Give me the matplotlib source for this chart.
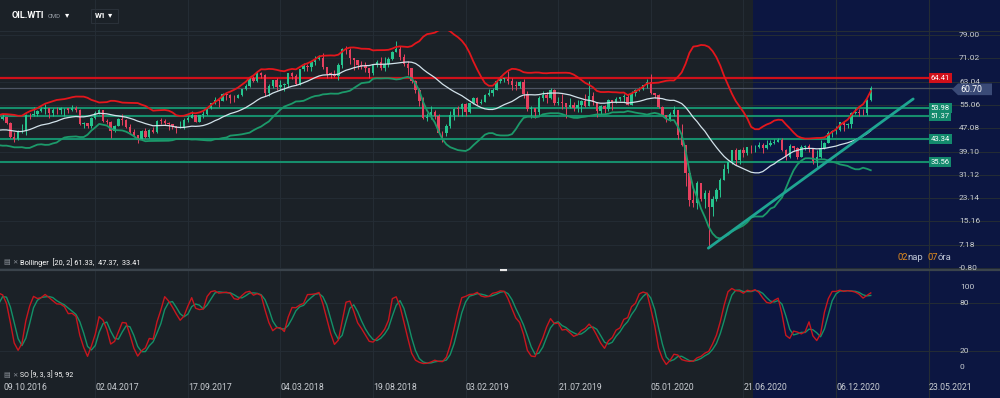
import numpy as np
import pandas as pd
import matplotlib
matplotlib.use("Agg")
import matplotlib.pyplot as plt
from matplotlib.patches import Rectangle, Polygon
import matplotlib.transforms as mtransforms

# ---------------- DATA (weekly candles, week index 0 = 09.10.2016) ----------------
first_week = -20
close_2016 = [49.33, 48.62, 49.07, 47.98, 47.64, 48.99, 45.41, 45.95, 44.19, 41.60, 41.80, 44.49, 48.52, 47.64, 44.44, 45.88, 43.03, 44.48, 48.24, 49.81,
              50.35, 50.85, 48.70, 44.07, 43.41, 45.69, 46.06, 51.68, 51.50, 51.90, 53.02, 53.72]
high_2016 = [50.21, 50.07, 51.67, 49.68, 50.70, 49.99, 49.44, 46.81, 46.06, 44.30, 42.52, 44.72, 48.75, 48.72, 47.90, 46.55, 46.80, 46.55, 48.30, 50.14,
             51.60, 51.93, 50.99, 49.20, 45.95, 46.45, 48.35, 51.84, 52.42, 54.51, 53.29, 54.37]
low_2016 = [47.75, 47.93, 48.34, 45.83, 46.62, 45.83, 44.77, 44.28, 43.75, 40.57, 39.19, 41.27, 44.05, 46.17, 43.09, 43.65, 42.80, 43.25, 43.76, 47.69,
            49.55, 49.75, 48.43, 43.57, 42.20, 42.95, 45.29, 44.82, 50.39, 51.21, 51.43, 52.60]

close_2017 = [53.99, 52.37, 53.22, 53.17, 53.83, 53.86, 53.40, 53.99, 53.33, 48.49, 48.78, 47.97, 50.60, 52.24, 53.18, 49.62, 49.33, 46.22, 47.84, 50.33,
              49.80, 47.66, 45.83, 44.74, 43.01, 46.04, 44.23, 46.54, 45.77, 49.71, 49.58, 48.82, 48.51, 47.87, 47.29, 47.48, 49.89, 50.66, 51.67, 49.29,
              51.45, 51.84, 53.90, 55.64, 56.74, 56.55, 58.95, 58.36, 57.36, 57.30, 58.47, 60.42]
high_2017 = [55.24, 53.99, 53.85, 54.18, 54.49, 54.09, 54.00, 54.94, 54.66, 53.55, 49.19, 48.76, 50.85, 52.94, 53.76, 53.19, 50.11, 49.46, 48.05, 50.66,
             52.00, 50.27, 48.37, 46.87, 44.75, 46.53, 47.32, 46.97, 47.35, 49.81, 50.43, 50.22, 49.29, 48.44, 48.00, 49.42, 50.50, 51.28, 52.86, 51.70,
             51.60, 52.86, 54.20, 55.76, 57.69, 57.06, 58.98, 59.05, 58.72, 58.40, 58.66, 60.51]
low_2017 = [52.11, 50.71, 51.43, 52.06, 52.08, 51.22, 52.45, 53.04, 52.80, 48.10, 47.09, 47.04, 47.20, 50.15, 52.06, 49.31, 48.61, 43.76, 45.91, 47.76,
            48.18, 47.28, 45.20, 44.27, 42.05, 42.91, 43.76, 43.80, 45.40, 45.52, 48.36, 48.27, 46.46, 46.85, 45.58, 46.99, 46.65, 49.19, 51.04, 49.10,
            49.09, 50.71, 51.53, 53.82, 55.39, 54.48, 56.24, 56.75, 55.82, 56.14, 57.32, 58.10]

close_2018 = [61.44, 64.30, 63.37, 66.14, 65.45, 59.20, 61.68, 63.55, 61.25, 62.04, 62.34, 65.88, 64.94, 62.06, 67.39, 68.38, 68.10, 69.72, 70.70, 71.28,
              67.88, 65.81, 65.74, 65.06, 68.58, 74.15, 73.80, 71.01, 70.46, 68.69, 68.49, 67.63, 65.91, 68.72, 69.80, 67.75, 68.99, 70.78, 73.25, 74.34,
              71.34, 69.12, 67.59, 63.14, 60.19, 56.46, 50.42, 50.93, 52.61, 51.20, 45.59, 45.33]
high_2018 = [62.21, 64.77, 64.89, 66.66, 66.30, 65.53, 62.09, 63.73, 64.24, 63.69, 62.59, 65.94, 66.37, 65.57, 67.45, 69.56, 69.20, 69.76, 71.89, 72.30,
             72.83, 68.10, 66.36, 67.04, 69.25, 74.46, 75.27, 74.70, 71.06, 70.36, 70.06, 69.92, 67.65, 68.92, 70.50, 71.40, 71.31, 71.60, 73.37, 76.90,
             75.31, 72.65, 70.03, 67.63, 63.68, 60.89, 57.79, 52.43, 54.55, 53.28, 51.93, 46.24]
low_2018 = [60.10, 61.21, 62.85, 62.91, 64.24, 58.07, 58.26, 60.69, 60.16, 60.21, 59.95, 61.28, 63.89, 61.81, 61.95, 66.62, 66.52, 66.74, 68.88, 70.31,
            67.46, 64.22, 64.26, 64.78, 63.59, 67.54, 72.34, 69.00, 67.03, 67.42, 67.25, 66.19, 64.43, 65.47, 68.16, 66.86, 66.66, 68.10, 70.48, 73.08,
            70.41, 68.48, 65.33, 62.63, 59.26, 54.75, 50.15, 49.41, 50.08, 50.34, 45.42, 42.36]

close_2019 = [47.96, 51.59, 53.80, 53.69, 55.26, 52.72, 55.59, 57.26, 55.80, 56.07, 58.52, 59.04, 60.14, 63.08, 63.89, 64.00, 63.30, 61.94, 61.66, 62.76,
              58.63, 53.50, 53.99, 52.51, 57.43, 58.47, 57.51, 60.21, 55.63, 56.20, 55.66, 54.50, 54.87, 54.17, 55.10, 56.52, 54.85, 58.09, 55.91, 52.81,
              54.70, 53.78, 56.66, 56.20, 57.24, 57.72, 57.77, 55.17, 59.20, 60.07, 60.44, 61.72]
high_2019 = [48.64, 52.82, 54.06, 54.71, 55.75, 55.79, 55.75, 57.81, 57.88, 57.25, 58.74, 60.39, 60.73, 63.23, 64.79, 64.37, 66.60, 64.37, 63.34, 63.38,
             63.87, 59.76, 54.84, 54.14, 58.09, 59.93, 59.48, 60.94, 60.61, 57.84, 58.82, 55.33, 57.47, 56.20, 56.79, 56.84, 58.76, 63.38, 59.40, 56.00,
             54.88, 54.96, 56.92, 56.89, 57.79, 57.92, 58.84, 58.76, 59.85, 60.64, 61.32, 61.87]
low_2019 = [44.35, 47.10, 50.03, 51.34, 51.33, 51.23, 52.28, 55.29, 55.11, 55.40, 55.90, 58.20, 58.17, 60.04, 62.65, 62.96, 62.33, 60.30, 60.03, 60.87,
            57.33, 52.86, 50.60, 50.72, 51.27, 56.30, 55.74, 57.25, 54.87, 55.07, 53.59, 50.52, 54.08, 52.92, 52.51, 52.78, 54.50, 57.40, 55.18, 50.99,
            51.97, 52.36, 52.91, 53.21, 55.81, 56.26, 55.93, 54.97, 55.18, 58.17, 59.79, 60.26]

close_2020 = [63.05, 59.04, 58.54, 54.19, 51.56, 50.32, 52.05, 53.38, 44.76, 41.28, 31.73, 22.43, 21.51, 28.34, 22.76, 25.03, 20.20, 22.80, 25.80, 29.43,
              33.25, 35.49, 39.55, 36.26, 39.75, 38.49, 40.65, 40.55, 40.59, 41.29, 40.27, 41.22, 42.01, 42.34, 42.97, 39.77, 37.33, 41.11, 40.25, 37.05,
              40.60, 40.88, 39.85, 35.79, 37.14, 40.13, 42.15, 45.53, 46.26, 46.57, 49.10, 48.23]
high_2020 = [64.09, 65.65, 59.30, 58.68, 54.78, 51.65, 52.75, 54.54, 53.33, 48.66, 33.22, 32.88, 26.50, 29.13, 28.36, 25.80, 25.90, 23.90, 26.70, 29.95,
             34.66, 35.53, 39.76, 40.44, 40.00, 40.74, 40.80, 41.31, 41.17, 42.51, 42.01, 42.97, 43.00, 43.41, 43.78, 43.59, 39.95, 41.55, 41.13, 40.55,
             41.21, 41.45, 41.78, 40.44, 39.47, 43.07, 42.41, 46.26, 46.56, 47.74, 49.32, 49.34]
low_2020 = [60.82, 58.67, 57.36, 54.06, 51.36, 49.31, 49.54, 51.13, 43.32, 40.94, 27.34, 20.52, 20.08, 19.27, 21.98, 19.90, 6.50, 17.00, 22.20, 23.67,
            29.47, 31.62, 34.73, 34.63, 34.66, 37.08, 37.94, 38.63, 39.00, 40.14, 38.72, 40.04, 41.03, 41.52, 42.56, 39.29, 36.13, 36.82, 39.21, 36.63,
            37.37, 39.46, 38.95, 34.92, 33.64, 36.94, 39.93, 42.18, 43.92, 45.08, 45.97, 46.16]

close_2021 = [48.52, 52.24, 52.36, 52.27, 52.20, 56.85, 60.70]
high_2021 = [48.96, 52.75, 53.93, 53.55, 53.68, 57.00, 61.60]
low_2021 = [47.18, 47.26, 51.86, 51.42, 51.75, 51.60, 56.35]

date_tick_weeks = [0, 25, 49, 73, 97, 121, 145, 169, 193, 217, 241]
date_labels = ["09.10.2016", "02.04.2017", "17.09.2017", "04.03.2018", "19.08.2018", "03.02.2019",
               "21.07.2019", "05.01.2020", "21.06.2020", "06.12.2020", "23.05.2021"]
price_ticks = [79.00, 71.02, 63.04, 55.06, 47.08, 39.10, 31.12, 23.14, 15.16, 7.18, -0.80]
osc_ticks = [100, 80, 20, 0]
red_level = 64.41
green_levels = [53.98, 51.37, 43.34, 35.56]
last_price = 60.70
trend_weeks = [183.9, 237.0]
trend_prices = [6.0, 57.1]
shade_start_week = 195.5
bb_label = "Bollinger  [20, 2] 61.33,  47.37,  33.41"
so_label = "SO [9, 3, 3] 95, 92"

# ---------------- PREP ----------------
close = np.array(close_2016 + close_2017 + close_2018 + close_2019 + close_2020 + close_2021)
high = np.array(high_2016 + high_2017 + high_2018 + high_2019 + high_2020 + high_2021)
low = np.array(low_2016 + low_2017 + low_2018 + low_2019 + low_2020 + low_2021)
assert len(close) == len(high) == len(low)
weeks = np.arange(first_week, first_week + len(close))
opn = np.concatenate([[close[0]], close[:-1]])
high = np.maximum(high, np.maximum(opn, close))
low = np.minimum(low, np.minimum(opn, close))

s = pd.Series(close)
bb_mid = s.rolling(20).mean()
bb_sd = s.rolling(20).std(ddof=0)
bb_up = bb_mid + 2 * bb_sd
bb_lo = bb_mid - 2 * bb_sd

hh = pd.Series(high).rolling(9).max()
ll = pd.Series(low).rolling(9).min()
k = 100 * (s - ll).rolling(3).sum() / (hh - ll).rolling(3).sum()
d = k.rolling(3).mean()

# ---------------- STYLE ----------------
plt.rcParams['font.family'] = ['Roboto', 'DejaVu Sans']
BG = '#1b2127'
BLUE = '#0c1641'
GRID = '#242c34'
TXT = '#c9cdd2'
C_UP = '#26c48e'
C_DN = '#e5405e'
XLIM = (0.31, 259.5)
H = 398.0

fig = plt.figure(figsize=(10, 3.98), dpi=100, facecolor=BG)

def frac(y0, y1):
    return [0, 1 - y1 / H, 1, (y1 - y0) / H]

# background (data-x, pixel-y)
bg = fig.add_axes([0, 0, 1, 1])
bg.set_xlim(*XLIM)
bg.set_ylim(H, 0)
bg.axis('off')
bg.axvspan(shade_start_week, XLIM[1], color=BLUE, lw=0)
for t in date_tick_weeks:
    bg.axvline(t, color=GRID, lw=0.8, zorder=1)
bg.axhline(31, color='#252d35', lw=0.8)
bg.axhline(270, color='#3a434b', lw=1.6)
bg.plot([129.9, 131.7], [270, 270], color='#e8e8e8', lw=1.6, solid_capstyle='butt')
for t, lbl in zip(date_tick_weeks, date_labels):
    bg.text(max(t, XLIM[0] + 0.8), 387.5, lbl, ha='left', va='center', fontsize=6.3, color=TXT)

# main price panel
ax = fig.add_axes(frac(31, 270))
ax.set_facecolor('none')
ax.set_xlim(*XLIM)
ax.set_ylim(-1.48, 80.37)
ax.axis('off')
for v in price_ticks:
    ax.axhline(v, color=GRID, lw=0.7, zorder=0)

ax.axhline(last_price, xmin=0, xmax=0.953, color='#4d5462', lw=0.9, zorder=2)
ax.axhline(red_level, xmin=0, xmax=0.93, color='#d0101a', lw=1.6, zorder=2)
for v in green_levels:
    ax.axhline(v, xmin=0, xmax=0.93, color='#168e6c', lw=1.5, zorder=2)

up = close >= opn
body_b = np.minimum(opn, close)
body_h = np.maximum(np.abs(close - opn), 0.25)
cols = np.where(up, C_UP, C_DN)
ax.vlines(weeks, low, high, colors=cols, lw=0.7, zorder=3)
ax.bar(weeks, body_h, bottom=body_b, width=0.62, color=cols, lw=0, zorder=4)

ax.plot(weeks, bb_up, color='#e3161c', lw=1.3, zorder=5)
ax.plot(weeks, bb_mid, color='#d2e2ea', lw=0.9, zorder=5)
ax.plot(weeks, bb_lo, color='#1c9a6a', lw=1.3, zorder=5)
ax.plot(trend_weeks, trend_prices, color='#1fa592', lw=2.0, zorder=6, solid_capstyle='round')

tr = mtransforms.blended_transform_factory(ax.transAxes, ax.transData)
for v in price_ticks:
    ax.text(0.959, v, f"{v:.2f}", transform=tr, ha='left', va='center', fontsize=6.0, color=TXT, zorder=7)
ax.text(0.9305, red_level, f"{red_level:.2f}", transform=tr, ha='left', va='center', fontsize=5.5,
        color='white', zorder=8, bbox=dict(boxstyle='square,pad=0.25', fc='#d0101a', ec='none'))
for v in green_levels:
    ax.text(0.9305, v, f"{v:.2f}", transform=tr, ha='left', va='center', fontsize=5.5,
            color='white', zorder=8, bbox=dict(boxstyle='square,pad=0.25', fc='#138a6d', ec='none'))
hh_ = 2.0
arrow_y = last_price - 0.3
poly = Polygon([[0.952, arrow_y], [0.958, arrow_y + hh_], [0.992, arrow_y + hh_],
                [0.992, arrow_y - hh_], [0.958, arrow_y - hh_]], closed=True,
               transform=tr, fc='#3a4a76', ec='none', zorder=8)
ax.add_patch(poly)
ax.text(0.96, arrow_y - 0.2, f"{last_price:.2f}", transform=tr, ha='left', va='center', fontsize=6.3,
        color='white', zorder=9)

# oscillator panel
ox = fig.add_axes(frac(272, 376))
ox.set_facecolor('none')
ox.set_xlim(*XLIM)
ox.set_ylim(-11.25, 118.75)
ox.axis('off')
for v in [20, 80]:
    ox.axhline(v, color=GRID, lw=0.7, zorder=0)
ox.plot(weeks, d, color='#139168', lw=1.0, zorder=3)
ox.plot(weeks, k, color='#c8161e', lw=1.0, zorder=4)
otr = mtransforms.blended_transform_factory(ox.transAxes, ox.transData)
for v in osc_ticks:
    ox.text(0.96, v, str(v), transform=otr, ha='left', va='center', fontsize=6.0, color=TXT)

# overlay texts (pixel coords)
tx = fig.add_axes([0, 0, 1, 1])
tx.set_xlim(0, 1000)
tx.set_ylim(H, 0)
tx.axis('off')
tx.text(12, 16, "OIL.WTI", fontsize=6.6, fontweight='bold', color='white', va='center')
tx.text(48, 16.5, "CMD", fontsize=4.3, color='#9aa0a8', va='center')
tx.text(65, 15, "▾", fontsize=6, color='white', va='center')
tx.add_patch(Rectangle((91, 9), 27, 14, fc='none', ec='#2a3139', lw=0.8))
tx.text(95, 16, "W1", fontsize=5.6, fontweight='bold', color='white', va='center')
tx.text(108, 15, "▾", fontsize=6, color='white', va='center')

tx.text(3, 262.5, "▤", fontsize=5, color='#8a9098', va='center', family=['DejaVu Sans'])
tx.text(12, 262.5, "✕", fontsize=4.6, color='#8a9098', va='center', family=['DejaVu Sans'])
tx.text(20, 262.5, bb_label, fontsize=5.3, color='white', va='center')
tx.text(3, 375.5, "▤", fontsize=5, color='#8a9098', va='center', family=['DejaVu Sans'])
tx.text(12, 375.5, "✕", fontsize=4.6, color='#8a9098', va='center', family=['DejaVu Sans'])
tx.text(20, 375.5, so_label, fontsize=5.0, color='white', va='center')

tx.text(897, 257, "02", fontsize=6.8, color='#e08a1e', va='center')
tx.text(907, 257, "nap", fontsize=6.8, color='#b8bfd0', va='center')
tx.text(928, 257, "07", fontsize=6.8, color='#e08a1e', va='center')
tx.text(938, 257, "óra", fontsize=6.8, color='#b8bfd0', va='center')

fig.savefig("out.png", dpi=100, facecolor=BG)
